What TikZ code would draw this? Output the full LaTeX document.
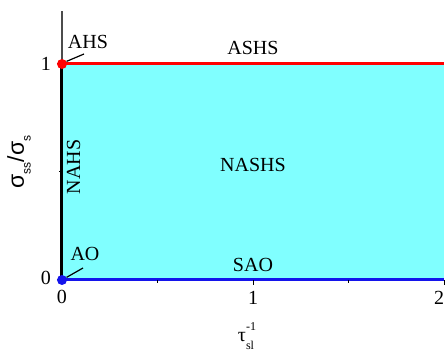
\documentclass[tikz,border=0pt]{standalone}
\usepackage{fontspec}
\setmainfont{Liberation Serif}
\setsansfont{Liberation Sans}
\usetikzlibrary{positioning}
\definecolor{rcyan}{RGB}{128,255,255}
\definecolor{rred}{RGB}{255,0,0}
\definecolor{rblue}{RGB}{20,20,235}

\begin{document}
\begin{tikzpicture}[x=191pt,y=216pt,
  lbl/.style={font=\fontsize{20}{24}\selectfont,inner sep=0pt},
  tick/.style={font=\fontsize{20}{24}\selectfont,inner sep=0pt},
  dot/.style={circle,inner sep=0pt,minimum size=10pt},
  lead/.style={black,line width=1.2pt}
]
\useasboundingbox (-62pt,-73pt) rectangle (385pt,280pt);
% region and boundaries
\fill[rcyan] (0,0) rectangle (2,1);
\draw[gray!60!black,line width=1.3pt] (0,0) -- (0,1.245);
\draw[rred,line width=3pt] (0,1) -- (2,1);
\draw[rblue,line width=3pt] (0,0) -- (2,0);
\draw[black,line width=3pt] (0,0) -- (0,1);
% ticks
\draw[line width=1pt] (1,0) -- ++(0,-5pt) (2,0) -- ++(0,-5pt)
  (0.5,0) -- ++(0,-3pt) (1.5,0) -- ++(0,-3pt)
  (0,0) -- ++(-5pt,0) (0,1) -- ++(-5pt,0) (0,0.5) -- ++(-3pt,0);
\node[tick] (y0) at (-16pt,2pt) {0};
\node[tick] (y1) at (-16pt,216pt) {1};
\node[tick] (x0) at (0pt,-17pt) {0};
\node[tick] (x1) at (1,-18pt) {1};
\node[tick] (x2) at (377pt,-18pt) {2};
% special points
\node[dot,fill=rred] (ahs) at (0,1) {};
\node[dot,fill=rblue] (ao) at (0,0) {};
% labels
\node[lbl] (lahs) at (26pt,238pt) {AHS};
\node[lbl] (lao) at (23pt,26pt) {AO};
\node[lbl] (lashs) at (1,232pt) {ASHS};
\node[lbl] (lnashs) at (1,115pt) {NASHS};
\node[lbl] (lsao) at (1,15pt) {SAO};
\node[lbl,rotate=90] (lnahs) at (11.5pt,113pt) {NAHS};
\coordinate (tahs) at (22pt,226pt);
\coordinate (tao) at (21pt,12pt);
\draw[lead] (ahs.30) -- (tahs);
\draw[lead] (ao.30) -- (tao);
% axis titles
\node[lbl,rotate=90] (ytitle) at (-43pt,118pt)
  {\sffamily\fontsize{23}{26}\selectfont σ\raisebox{-0.3em}{\fontsize{12}{14}\selectfont ss}/σ\raisebox{-0.3em}{\fontsize{12}{14}\selectfont s}};
\node[lbl] (xtitle) at (184pt,-56pt)
  {τ\makebox[0pt][l]{\raisebox{0.55em}{\fontsize{12}{14}\selectfont -1}}\raisebox{-0.4em}{\fontsize{12}{14}\selectfont sl}};
\end{tikzpicture}
\end{document}
